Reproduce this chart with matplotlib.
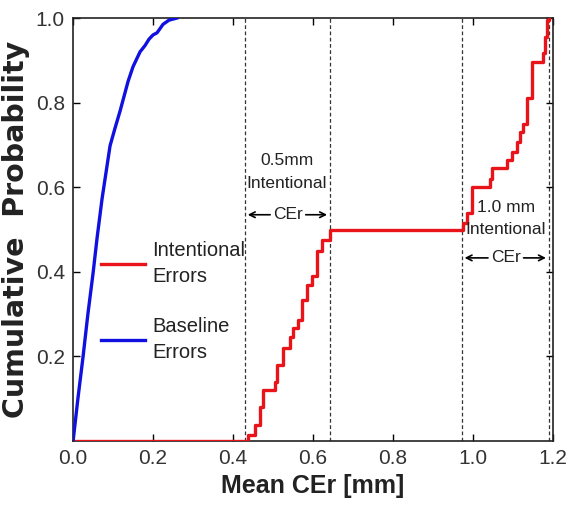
import matplotlib
matplotlib.use("Agg")
import matplotlib.pyplot as plt
from matplotlib import font_manager

fams = [f.name for f in font_manager.fontManager.ttflist]
narrow = 'Liberation Sans Narrow' if 'Liberation Sans Narrow' in fams else 'Liberation Sans'
plt.rcParams['font.family'] = [narrow, 'DejaVu Sans']

# Baseline errors CDF (blue)
base_x = [0.0, 0.012, 0.025, 0.037, 0.05, 0.06, 0.0725, 0.0925, 0.105, 0.1175, 0.1375, 0.15, 0.1675, 0.18, 0.19, 0.2, 0.21, 0.225, 0.24, 0.26]
base_y = [0.0, 0.10, 0.20, 0.30, 0.397, 0.48, 0.573, 0.698, 0.74, 0.78, 0.85, 0.885, 0.92, 0.935, 0.95, 0.96, 0.965, 0.985, 0.995, 1.0]

# Intentional errors CDF (red), step positions and levels
int_x = [0.0, 0.4375, 0.455, 0.4675, 0.475, 0.505, 0.51, 0.525, 0.5425, 0.55, 0.5625, 0.5725, 0.585,
         0.5975, 0.61, 0.6225, 0.6425, 0.975, 0.985, 0.9975, 1.0425, 1.0475, 1.085, 1.0975, 1.11,
         1.1175, 1.125, 1.135, 1.1475, 1.175, 1.18, 1.185, 1.19]
int_y = [0.0, 0.014, 0.038, 0.08, 0.12, 0.14, 0.18, 0.22, 0.245, 0.267, 0.286, 0.333, 0.369,
         0.39, 0.45, 0.475, 0.5, 0.516, 0.539, 0.6, 0.62, 0.645, 0.664, 0.683, 0.707,
         0.73, 0.75, 0.81, 0.896, 0.917, 0.955, 0.995, 1.0]

dashed_x = [0.43, 0.6425, 0.9725, 1.19]
x_ticks = [0.0, 0.2, 0.4, 0.6, 0.8, 1.0, 1.2]
y_ticks = [0.2, 0.4, 0.6, 0.8, 1.0]

fig = plt.figure(figsize=(5.71, 5.22), dpi=100)
ax = fig.add_axes([0.128, 0.155, 0.840, 0.8105])

for xv in dashed_x:
    ax.axvline(xv, color='#333333', linestyle=(0, (3, 2)), linewidth=0.9, zorder=1)

ax.plot(int_x, int_y, drawstyle='steps-post', color='#e8141a', linewidth=2.4, zorder=3,
        label='Intentional\nErrors')
ax.plot(base_x, base_y, color='#1010e0', linewidth=2.4, zorder=3, label='Baseline\nErrors')

ax.set_xlim(0, 1.2)
ax.set_ylim(0, 1.0)
ax.set_xticks(x_ticks)
ax.set_xticklabels([f"{v:.1f}" for v in x_ticks])
ax.set_yticks(y_ticks)
ax.set_yticklabels([f"{v:.1f}" for v in y_ticks])
ax.tick_params(direction='in', top=True, right=True, length=5, width=1, labelsize=15, pad=6,
               labelcolor='#333333')
for s in ax.spines.values():
    s.set_linewidth(1.2)
    s.set_color('#222222')

ax.set_xlabel('Mean CEr [mm]', fontsize=18, fontweight='bold', family=['Liberation Sans', 'DejaVu Sans'],
              labelpad=4, color='#222222')
ax.set_ylabel('Cumulative  Probability', fontsize=20.5, fontweight='bold',
              family=['DejaVu Sans'], labelpad=4, color='#222222')

leg = ax.legend(loc='upper left', bbox_to_anchor=(0.02, 0.515), frameon=False, fontsize=14.5,
                handlelength=2.2, labelspacing=1.55, handletextpad=0.35)
for t in leg.get_texts():
    t.set_linespacing(1.45)
    t.set_color('#222222')

# annotations
ax.text(0.535, 0.636, '0.5mm\nIntentional', ha='center', va='center', fontsize=12.5, linespacing=1.6,
        color='#222222')
ax.annotate('', xy=(0.43, 0.535), xytext=(0.50, 0.535),
            arrowprops=dict(arrowstyle='->', color='black', lw=1.2))
ax.annotate('', xy=(0.6425, 0.535), xytext=(0.575, 0.535),
            arrowprops=dict(arrowstyle='->', color='black', lw=1.2))
ax.text(0.5365, 0.535, 'CEr', ha='center', va='center', fontsize=12.5, color='#222222')

ax.text(1.082, 0.527, '1.0 mm\nIntentional', ha='center', va='center', fontsize=12.5, linespacing=1.6,
        color='#222222')
ax.annotate('', xy=(0.9725, 0.433), xytext=(1.045, 0.433),
            arrowprops=dict(arrowstyle='->', color='black', lw=1.2))
ax.annotate('', xy=(1.19, 0.433), xytext=(1.12, 0.433),
            arrowprops=dict(arrowstyle='->', color='black', lw=1.2))
ax.text(1.082, 0.433, 'CEr', ha='center', va='center', fontsize=12.5, color='#222222')

fig.savefig('out.png', dpi=100)
